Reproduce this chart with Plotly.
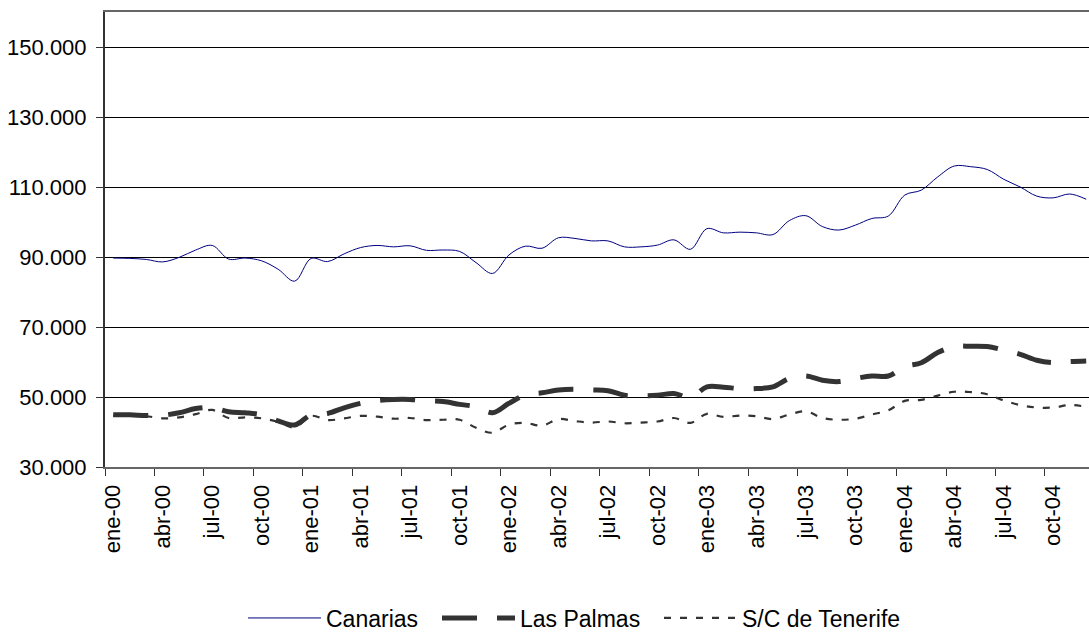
import plotly.graph_objects as go

months = ["ene", "feb", "mar", "abr", "may", "jun", "jul", "ago", "sep", "oct", "nov", "dic"]
years = ["00", "01", "02", "03", "04"]
categories = [f"{m}-{y}" for y in years for m in months]

canarias = [89.7, 89.6, 89.3, 88.6, 89.9, 92.0, 93.3, 89.4, 89.7, 88.9, 86.5, 83.1,
            89.6, 88.7, 90.9, 92.7, 93.3, 92.9, 93.2, 91.9, 92.0, 91.6, 88.4, 85.3,
            90.6, 93.1, 92.5, 95.5, 95.3, 94.6, 94.6, 92.9, 92.9, 93.4, 94.9, 92.2,
            98.1, 96.9, 97.1, 96.9, 96.4, 100.4, 101.8, 98.7, 97.7, 99.1, 101.0, 101.7,
            107.7, 109.1, 112.9, 116.0, 115.8, 115.0, 112.2, 110.0, 107.4, 106.9, 108.0, 106.5]
las_palmas = [44.9, 44.9, 44.7, 44.8, 45.5, 46.7, 47.0, 45.8, 45.5, 44.9, 43.2, 42.0,
              44.9, 45.3, 46.9, 48.2, 49.0, 49.3, 49.3, 48.9, 48.7, 47.9, 47.2, 45.5,
              48.2, 50.6, 51.2, 52.0, 52.2, 52.0, 51.8, 50.5, 50.3, 50.5, 51.0, 49.9,
              52.9, 52.8, 52.4, 52.4, 52.9, 55.3, 56.0, 54.8, 54.4, 55.3, 56.0, 56.0,
              58.7, 59.8, 62.7, 64.4, 64.5, 64.4, 63.4, 62.2, 60.5, 59.8, 60.1, 60.3]
tenerife = [44.6, 44.6, 44.5, 43.9, 44.2, 45.1, 46.3, 44.0, 44.2, 43.9, 42.9, 41.3,
            44.6, 43.4, 43.9, 44.6, 44.4, 43.8, 44.0, 43.4, 43.5, 43.5, 41.2, 39.8,
            42.1, 42.6, 41.8, 43.7, 43.1, 42.7, 43.0, 42.5, 42.7, 43.0, 44.0, 42.6,
            45.2, 44.3, 44.7, 44.5, 43.7, 45.0, 45.9, 44.0, 43.5, 43.8, 45.0, 46.2,
            48.9, 49.2, 50.4, 51.5, 51.4, 50.8, 49.0, 47.7, 47.0, 47.0, 47.7, 47.2]

series_names = ["Canarias", "Las Palmas", "S/C de Tenerife"]

x = list(range(len(categories)))
tick_idx = x[::3]
tick_labels = categories[::3]
boundary_ticks = [i - 0.5 for i in tick_idx]

W, H = 1089, 632
FONT = "Liberation Sans, Arial, sans-serif"

fig = go.Figure()
fig.add_trace(go.Scatter(x=x, y=[v * 1000 for v in canarias], name=series_names[0], mode="lines",
                         line=dict(color="#000080", width=1, shape="spline", smoothing=1.0),
                         legend="legend", showlegend=True))
fig.add_trace(go.Scatter(x=x, y=[v * 1000 for v in las_palmas], name=series_names[1], mode="lines",
                         line=dict(color="#333333", width=5, dash="35px,20px", shape="spline", smoothing=1.0),
                         legend="legend2", showlegend=True))
fig.add_trace(go.Scatter(x=x, y=[v * 1000 for v in tenerife], name=series_names[2], mode="lines",
                         line=dict(color="#333333", width=2.2, dash="7px,9px", shape="spline", smoothing=1.0),
                         legend="legend3", showlegend=True))

def leg(xpx):
    return dict(orientation="h", xref="container", yref="container",
                x=xpx / W, y=1 - 618 / H, xanchor="left", yanchor="middle",
                font=dict(family=FONT, size=23, color="#000"), itemwidth=73,
                bgcolor="rgba(0,0,0,0)", borderwidth=0)

fig.update_layout(
    width=W, height=H,
    showlegend=True,
    margin=dict(l=105, r=0, t=12, b=165, autoexpand=False),
    paper_bgcolor="white", plot_bgcolor="white",
    separators=",.",
    font=dict(family=FONT, size=22, color="#000"),
    legend=leg(243), legend2=leg(437), legend3=leg(659),
    xaxis=dict(range=[-0.5, 59.17], tickmode="array", tickvals=tick_idx, ticktext=tick_labels,
               tickangle=-90, ticks="", showgrid=False, zeroline=False, automargin=False,
               ticklabelstandoff=7,
               showline=True, linecolor="#666666", linewidth=2, mirror=True,
               tickfont=dict(family=FONT, size=22, color="#000"),
               minor=dict(tickmode="array", tickvals=boundary_ticks, ticks="outside",
                          ticklen=7, tickwidth=1, tickcolor="#333333", showgrid=False)),
    yaxis=dict(range=[30000, 160000], tick0=30000, dtick=20000, tickformat=",.0f",
               showgrid=True, gridcolor="#000000", gridwidth=1, zeroline=False, automargin=False,
               ticklabelstandoff=5,
               showline=True, linecolor="#333333", linewidth=2,
               ticks="outside", ticklen=7, tickcolor="#333333",
               tickfont=dict(family=FONT, size=22, color="#000")),
)

fig.write_html("out.html", config={"displayModeBar": False},
               post_script="document.body.style.margin='0';document.body.style.overflow='hidden';")
